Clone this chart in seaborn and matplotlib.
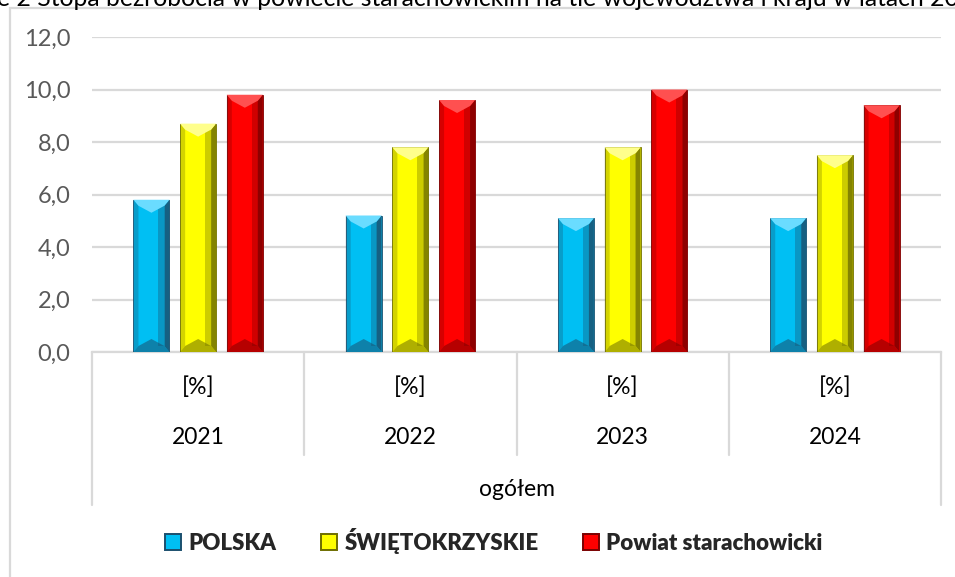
# Stopa bezrobocia - powiat starachowicki na tle województwa i kraju

import pandas as pd
import matplotlib.pyplot as plt
import matplotlib.transforms as mtransforms
from matplotlib.colors import to_rgb
from matplotlib.patches import Polygon, Rectangle
from matplotlib.lines import Line2D
import seaborn as sns

years = ['2021', '2022', '2023', '2024']
series = ['POLSKA', 'ŚWIĘTOKRZYSKIE', 'Powiat starachowicki']
polska = [5.8, 5.2, 5.1, 5.1]
swietokrzyskie = [8.7, 7.8, 7.8, 7.5]
powiat = [9.8, 9.6, 10.0, 9.4]
y_ticks = [0, 2, 4, 6, 8, 10, 12]
unit_label = '[%]'
group_label = 'ogółem'
title = 'e 2 Stopa bezrobocia w powiecie starachowickim na tle województwa i kraju w latach 20'

# long format for seaborn
df = pd.DataFrame({'rok': years * 3,
                   'seria': [s for s in series for _ in years],
                   'wartosc': polska + swietokrzyskie + powiat})

colors = ['#00BFF3', '#FFFF00', '#FF0000']
dark = ['#1B4F6E', '#6E6E00', '#7A0000']
light = ['#6ADCFF', '#FFFF8C', '#FF5050']

W, H = 955, 577
sns.set_theme(style='white')
plt.rcParams['font.family'] = ['Lato', 'DejaVu Sans']

fig = plt.figure(figsize=(W / 100, H / 100), dpi=100)

def fx(px):
    return px / W

def fy(py):
    return 1 - py / H

# plot area in pixels: x 92..941, y 37 (12,0) .. 352 (0,0)
ax = fig.add_axes([fx(92), fy(352), fx(941) - fx(92), fy(37) - fy(352)])

sns.barplot(data=df, x='rok', y='wartosc', hue='seria', palette=colors,
            width=0.66, gap=0.23, saturation=1, legend=False, ax=ax, zorder=3)

ax.set_ylim(0, 12)
ax.set_xlim(-0.5, 3.5)
ax.set_yticks(y_ticks)
ax.set_yticklabels([f'{t:.1f}'.replace('.', ',') for t in y_ticks],
                   fontsize=17, color='#595959')
ax.tick_params(axis='y', length=0, pad=15.5)
ax.set_xticks([])
ax.set_xlabel('')
ax.set_ylabel('')
ax.grid(axis='y', color='#D9D9D9', linewidth=1.6, zorder=0)
for s in ['left', 'right', 'top']:
    ax.spines[s].set_visible(False)
ax.spines['bottom'].set_color('#D9D9D9')
ax.spines['bottom'].set_linewidth(1.6)

# bevel look on each bar, built from the bar geometry
fig.canvas.draw()
to_px = ax.transData
bars = [p for p in ax.patches if isinstance(p, Rectangle) and p.get_height() > 0]
for p in bars:
    x0, w, h = p.get_x(), p.get_width(), p.get_height()
    fc = p.get_facecolor()
    idx = min(range(3), key=lambda i: sum(abs(a - b) for a, b in zip(fc[:3], to_rgb(colors[i]))))
    (ax0, ay0) = to_px.transform((x0, 0))
    (ax1, ay1) = to_px.transform((x0 + w, h))
    bx = 5 / (ax1 - ax0) * w
    by = 6 / (ay1 - ay0) * h
    tip = 13 / (ay1 - ay0) * h
    mid = x0 + w / 2
    p.set_edgecolor(dark[idx])
    p.set_linewidth(0.6)
    # right dark side, two steps
    ax.add_patch(Polygon([(x0 + w - bx, by), (x0 + w, 0), (x0 + w, h), (x0 + w - bx, h - by)],
                         closed=True, facecolor=dark[idx], edgecolor='none', alpha=0.85, zorder=4))
    ax.add_patch(Rectangle((x0 + w - 2.2 * bx, by), 1.2 * bx, h - 2 * by,
                           facecolor=dark[idx], edgecolor='none', alpha=0.35, zorder=4))
    # left shade
    ax.add_patch(Polygon([(x0, 0), (x0 + bx, by), (x0 + bx, h - by), (x0, h)],
                         closed=True, facecolor=dark[idx], edgecolor='none', alpha=0.3, zorder=4))
    # top highlight (chevron)
    ax.add_patch(Polygon([(x0, h), (x0 + w, h), (x0 + w - bx, h - by), (mid, h - tip), (x0 + bx, h - by)],
                         closed=True, facecolor=light[idx], edgecolor='none', zorder=4))
    # bottom shade
    ax.add_patch(Polygon([(x0, 0), (x0 + w, 0), (x0 + w - bx, by), (mid, tip), (x0 + bx, by)],
                         closed=True, facecolor=dark[idx], edgecolor='none', alpha=0.55, zorder=4))

# multi-level category axis under the plot
blend = mtransforms.blended_transform_factory(ax.transData, fig.transFigure)
for i in range(len(years) + 1):
    xs = i - 0.5
    bottom = 505 if i in (0, len(years)) else 455
    fig.add_artist(Line2D([xs, xs], [fy(352), fy(bottom)], transform=blend,
                          color='#D9D9D9', linewidth=1.6))
for i, yr in enumerate(years):
    fig.text(i, fy(387), unit_label, transform=blend, ha='center', va='center',
             fontsize=16.5, color='black')
    fig.text(i, fy(438), yr, transform=blend, ha='center', va='center',
             fontsize=16.5, color='black')
fig.text(1.5, fy(489), group_label, transform=blend, ha='center', va='center',
         fontsize=16.5, color='black')

# outer chart frame and cut-off title
fig.add_artist(Rectangle((fx(10), fy(H + 20)), 2, fy(8) - fy(H + 20),
                         transform=fig.transFigure, fill=False,
                         edgecolor='#D9D9D9', linewidth=1.6))
fig.text(fx(-3), fy(5.5), title, ha='left', va='baseline', fontsize=17.8, color='black')

# legend
handles = [Rectangle((0, 0), 1, 1, facecolor=c, edgecolor=d, linewidth=1.4)
           for c, d in zip(colors, dark)]
leg = fig.legend(handles, series, loc='center', bbox_to_anchor=(fx(494), fy(541)),
                 ncol=3, frameon=False, handlelength=0.7, handleheight=0.7,
                 handletextpad=0.35, columnspacing=2.0,
                 prop={'family': 'Lato', 'weight': 'heavy', 'size': 16})

fig.savefig('out.png', dpi=100)
